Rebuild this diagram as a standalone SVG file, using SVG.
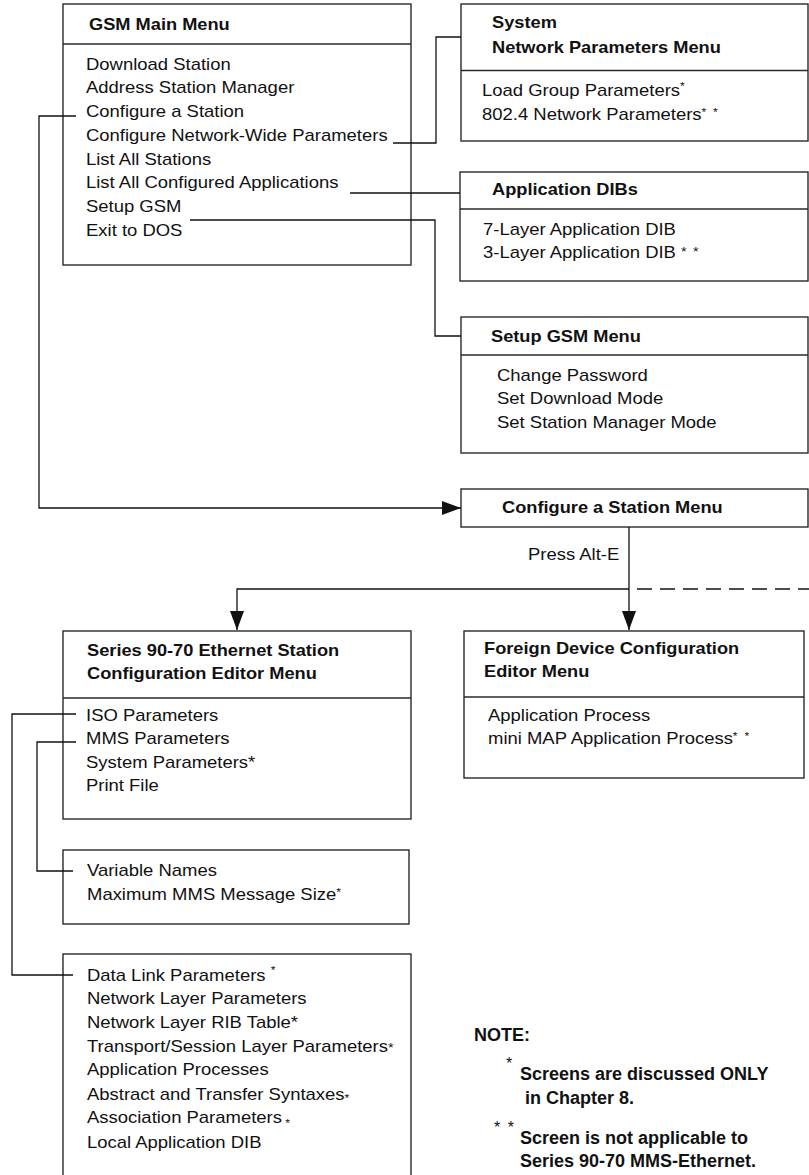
<svg xmlns="http://www.w3.org/2000/svg" width="809" height="1175" viewBox="0 0 809 1175">
<style>
.box{fill:#fff;stroke:#2a2a2a;stroke-width:1.4}
.div{stroke:#2a2a2a;stroke-width:1.4;fill:none}
.ln{stroke:#111;stroke-width:1.3;fill:none}
.dash{stroke:#111;stroke-width:1.3;fill:none;stroke-dasharray:15 8}
.t{font-family:"Liberation Sans",Arial,sans-serif;font-size:16px;fill:#111}
.b{font-family:"Liberation Sans",Arial,sans-serif;font-size:16px;font-weight:bold;fill:#111}
.n{font-family:"Liberation Sans",Arial,sans-serif;font-size:18px;font-weight:bold;fill:#111}
.sup{font-size:10.5px}
</style>
<defs>
<marker id="ah" markerUnits="userSpaceOnUse" markerWidth="19" markerHeight="14" refX="19" refY="7" orient="auto">
<path d="M0,0 L19,7 L0,14 z" fill="#111"/>
</marker>
</defs>
<rect width="809" height="1175" fill="#fff"/>

<g id="gsm-main-menu">
<rect class="box" x="63" y="4" width="348" height="261"/>
<line class="div" x1="63" y1="44" x2="411" y2="44"/>
<g transform="translate(89,0) scale(1.14,1)"><text class="b" x="0" y="30.5">GSM Main Menu</text></g>
<g transform="translate(86,0) scale(1.155,1)">
<text class="t" x="0" y="70">Download Station</text>
<text class="t" x="0" y="93.5">Address Station Manager</text>
<text class="t" x="0" y="117">Configure a Station</text>
<text class="t" x="0" y="141">Configure Network-Wide Parameters</text>
<text class="t" x="0" y="165">List All Stations</text>
<text class="t" x="0" y="188.5">List All Configured Applications</text>
<text class="t" x="0" y="212.5">Setup GSM</text>
<text class="t" x="0" y="236">Exit to DOS</text>
</g>
</g>

<g id="system-network-parameters-menu">
<rect class="box" x="461" y="4" width="347" height="137"/>
<line class="div" x1="461" y1="70.5" x2="808" y2="70.5"/>
<g transform="translate(492,0) scale(1.14,1)">
<text class="b" x="0" y="28">System</text>
<text class="b" x="0" y="53">Network Parameters Menu</text>
</g>
<g transform="translate(482,0) scale(1.155,1)">
<text class="t" x="0" y="96">Load Group Parameters<tspan class="sup" dy="-6">*</tspan></text>
<text class="t" x="0" y="120">802.4 Network Parameters<tspan class="sup" dy="-4" letter-spacing="1.5">* *</tspan></text>
</g>
</g>

<g id="application-dibs">
<rect class="box" x="460" y="172" width="348" height="109"/>
<line class="div" x1="460" y1="209" x2="808" y2="209"/>
<g transform="translate(492,0) scale(1.14,1)"><text class="b" x="0" y="195.5">Application DIBs</text></g>
<g transform="translate(483,0) scale(1.155,1)">
<text class="t" x="0" y="235">7-Layer Application DIB</text>
<text class="t" x="0" y="258.5">3-Layer Application DIB <tspan font-size="12.5" dy="-2" letter-spacing="1">* *</tspan></text>
</g>
</g>

<g id="setup-gsm-menu">
<rect class="box" x="461" y="317" width="347" height="136"/>
<line class="div" x1="461" y1="355" x2="808" y2="355"/>
<g transform="translate(491,0) scale(1.14,1)"><text class="b" x="0" y="342">Setup GSM Menu</text></g>
<g transform="translate(497,0) scale(1.155,1)">
<text class="t" x="0" y="381">Change Password</text>
<text class="t" x="0" y="404.5">Set Download Mode</text>
<text class="t" x="0" y="428">Set Station Manager Mode</text>
</g>
</g>

<g id="configure-a-station-menu">
<rect class="box" x="461" y="489" width="347" height="38"/>
<g transform="translate(502,0) scale(1.14,1)"><text class="b" x="0" y="513.5">Configure a Station Menu</text></g>
</g>

<g id="press-alt-e-label">
<g transform="translate(528,0) scale(1.155,1)"><text class="t" x="0" y="560">Press Alt-E</text></g>
</g>

<g id="series-90-70-ethernet-station-configuration-editor-menu">
<rect class="box" x="63" y="631" width="348" height="188"/>
<line class="div" x1="63" y1="698" x2="411" y2="698"/>
<g transform="translate(87,0) scale(1.14,1)">
<text class="b" x="0" y="656.5">Series 90-70 Ethernet Station</text>
<text class="b" x="0" y="679.5">Configuration Editor Menu</text>
</g>
<g transform="translate(86,0) scale(1.155,1)">
<text class="t" x="0" y="721">ISO Parameters</text>
<text class="t" x="0" y="744">MMS Parameters</text>
<text class="t" x="0" y="768.5">System Parameters*</text>
<text class="t" x="0" y="791.5">Print File</text>
</g>
</g>

<g id="foreign-device-configuration-editor-menu">
<rect class="box" x="464" y="631" width="340" height="147"/>
<line class="div" x1="464" y1="697" x2="804" y2="697"/>
<g transform="translate(484,0) scale(1.14,1)">
<text class="b" x="0" y="654.5">Foreign Device Configuration</text>
<text class="b" x="0" y="677.5">Editor Menu</text>
</g>
<g transform="translate(488,0) scale(1.155,1)">
<text class="t" x="0" y="721">Application Process</text>
<text class="t" x="0" y="744">mini MAP Application Process<tspan class="sup" dy="-4" letter-spacing="1.5">* *</tspan></text>
</g>
</g>

<g id="mms-parameters-menu">
<rect class="box" x="63" y="850" width="346" height="74"/>
<g transform="translate(87,0) scale(1.155,1)">
<text class="t" x="0" y="876">Variable Names</text>
<text class="t" x="0" y="900">Maximum MMS Message Size<tspan class="sup" dy="-4">*</tspan></text>
</g>
</g>

<g id="iso-parameters-menu">
<rect class="box" x="63" y="954" width="348" height="240"/>
<g transform="translate(87,0) scale(1.155,1)">
<text class="t" x="0" y="981">Data Link Parameters <tspan class="sup" dy="-7">*</tspan></text>
<text class="t" x="0" y="1004.5">Network Layer Parameters</text>
<text class="t" x="0" y="1028.5">Network Layer RIB Table*</text>
<text class="t" x="0" y="1052.5">Transport/Session Layer Parameters<tspan font-size="12.5">*</tspan></text>
<text class="t" x="0" y="1075.5">Application Processes</text>
<text class="t" x="0" y="1100">Abstract and Transfer Syntaxes<tspan class="sup" dy="2">*</tspan></text>
<text class="t" x="0" y="1123.5">Association Parameters<tspan class="sup" dy="4"> *</tspan></text>
<text class="t" x="0" y="1148">Local Application DIB</text>
</g>
</g>

<g id="note">
<text class="n" x="474" y="1041">NOTE:</text>
<text class="t" font-size="11" x="506" y="1069">*</text>
<text class="n" x="520" y="1079.5">Screens are discussed ONLY</text>
<text class="n" x="525" y="1103.5">in Chapter 8.</text>
<text class="t" font-size="11" x="494" y="1133" letter-spacing="1.5">* *</text>
<text class="n" x="520" y="1143.5">Screen is not applicable to</text>
<text class="n" x="520" y="1167">Series 90-70 MMS-Ethernet.</text>
</g>

<g id="connectors">
<path class="ln" d="M76,116 H39 V508 H461" marker-end="url(#ah)"/>
<path class="ln" d="M393,143 H436 V37 H461"/>
<path class="ln" d="M350,193 H460"/>
<path class="ln" d="M190,220 H435 V336 H461"/>
<path class="ln" d="M629,527 V630" marker-end="url(#ah)"/>
<path class="ln" d="M629,589 H237 V630" marker-end="url(#ah)"/>
<path class="dash" d="M637,589 H809"/>
<path class="ln" d="M76,714 H12 V975 H73"/>
<path class="ln" d="M76,742 H37 V871 H73"/>
</g>
</svg>
